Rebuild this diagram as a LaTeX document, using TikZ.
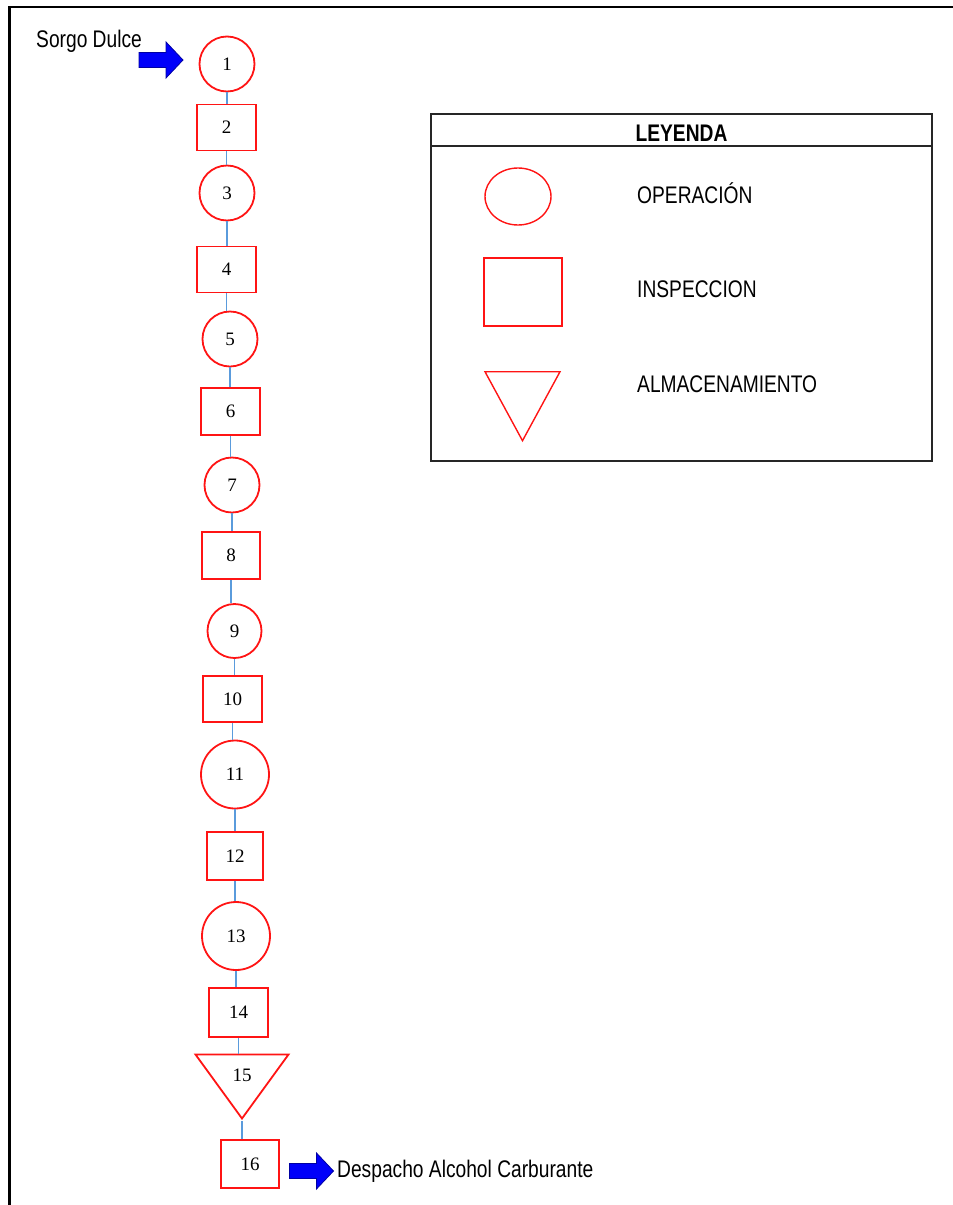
\documentclass[tikz,border=0pt]{standalone}
\usepackage{fontspec}
\usepackage{tikz}
\usetikzlibrary{positioning, shapes.geometric}
\newfontfamily\txtfont{Liberation Sans}[FakeStretch=0.8]
\newfontfamily\numfont{Liberation Serif}
\definecolor{flowblue}{RGB}{90,155,220}
\definecolor{oprred}{RGB}{255,20,20}
\definecolor{arrblue}{RGB}{0,0,250}
\tikzset{
    oper/.style={circle, draw=oprred, line width=1.8pt, minimum size=55pt, inner sep=0pt, font=\fontsize{19}{21}\numfont},
    operbig/.style={oper, minimum size=68pt},
    insp/.style={rectangle, draw=oprred, line width=1.8pt, minimum width=59pt, minimum height=46pt, inner sep=0pt, font=\fontsize{19}{21}\numfont},
    stock/.style={isosceles triangle, isosceles triangle stretches, shape border rotate=-90, draw=oprred, line width=1.8pt, minimum width=93pt, minimum height=64pt, inner sep=0pt, font=\fontsize{19}{21}\numfont},
    flow/.style={draw=flowblue, line width=1.4pt},
    blockarrow/.pic={
        \filldraw[fill=arrblue, draw=arrblue!65!black, line width=0.8pt, line join=miter]
            (-22,-7.5) -- (5,-7.5) -- (5,-18) -- (22,0) -- (5,18) -- (5,7.5) -- (-22,7.5) -- cycle;
    },
    txtlbl/.style={font=\fontsize{24}{26}\txtfont, anchor=base west, inner sep=0pt},
    legline/.style={draw=black!85, line width=2pt}
}
\begin{document}
\begin{tikzpicture}[x=1pt, y=-1pt]
    \useasboundingbox (0,0) rectangle (953,1205);
    % Frame (top and left edges)
    \draw[black, line width=2.6pt] (953,7) -- (9.5,7) -- (9.5,1205);

    % Process chart
    \node[oper] (n1) at (227,64) {1};
    \node[insp] (n2) at (226.5,127.5) {2};
    \node[oper] (n3) at (227,193) {3};
    \node[insp] (n4) at (226.5,269.5) {4};
    \node[oper] (n5) at (230,339) {5};
    \node[insp, minimum height=47pt] (n6) at (230.5,411.5) {6};
    \node[oper] (n7) at (232,485) {7};
    \node[insp, minimum width=58pt, minimum height=47pt] (n8) at (231,555.5) {8};
    \node[oper, minimum size=54pt] (n9) at (234.5,631) {9};
    \node[insp] (n10) at (232.5,699) {10};
    \node[operbig] (n11) at (235,774.5) {11};
    \node[insp, minimum width=56pt, minimum height=48pt] (n12) at (235,856) {12};
    \node[operbig] (n13) at (236,936) {13};
    \node[insp, minimum height=49pt] (n14) at (238.5,1012.5) {14};
    \node[stock] (n15) at (242,1075) {15};
    \node[insp, minimum width=58pt, minimum height=48pt] (n16) at (250,1164) {16};

    % Connectors
    \draw[flow] (n1.south) -- (n1.south |- n2.north);
    \draw[flow] (n2.south) -- (n2.south |- n3.north);
    \draw[flow] (n3.south) -- (n3.south |- n4.north);
    \draw[flow] (n4.south) -- (n4.south |- n5.north);
    \draw[flow] (n5.south) -- (n5.south |- n6.north);
    \draw[flow] (n6.south) -- (n6.south |- n7.north);
    \draw[flow] (n7.south) -- (n7.south |- n8.north);
    \draw[flow] (n8.south) -- (n8.south |- n9.north);
    \draw[flow] (n9.south) -- (n9.south |- n10.north);
    \draw[flow] (n10.south) -- (n10.south |- n11.north);
    \draw[flow] (n11.south) -- (n11.south |- n12.north);
    \draw[flow] (n12.south) -- (n12.south |- n13.north);
    \draw[flow] (n13.south) -- (n13.south |- n14.north);
    \draw[flow] (n14.south) -- (n14.south |- n15.north);
    \draw[flow] (n15.apex) -- (n15.apex |- n16.north);

    % Input and output
    \pic (inarr) at (161,60) {blockarrow};
    \node[txtlbl] (intext) at (36,47) {Sorgo Dulce};
    \pic (outarr) at (311.5,1171) {blockarrow};
    \node[txtlbl] (outtext) at (337,1177) {Despacho Alcohol Carburante};

    % Legend
    \draw[legline] (431,114) rectangle (932,461);
    \draw[legline] (431,146) -- (932,146);
    \node[font=\fontsize{24}{26}\txtfont\bfseries, anchor=base, inner sep=0pt] (legtitle) at (681.5,141) {LEYENDA};
    \node[ellipse, draw=oprred, line width=1.4pt, minimum width=66pt, minimum height=57pt] (legop) at (518,196.5) {};
    \node[rectangle, draw=oprred, line width=1.4pt, minimum width=78pt, minimum height=68pt] (legins) at (523,292) {};
    \node[stock, line width=1.4pt, minimum width=75pt, minimum height=69pt] (legsto) at (522.5,394) {};
    \node[txtlbl] (legoptxt) at (637,203) {OPERACIÓN};
    \node[txtlbl] (leginstxt) at (637,297) {INSPECCION};
    \node[txtlbl] (legstotxt) at (637,392) {ALMACENAMIENTO};
\end{tikzpicture}
\end{document}
